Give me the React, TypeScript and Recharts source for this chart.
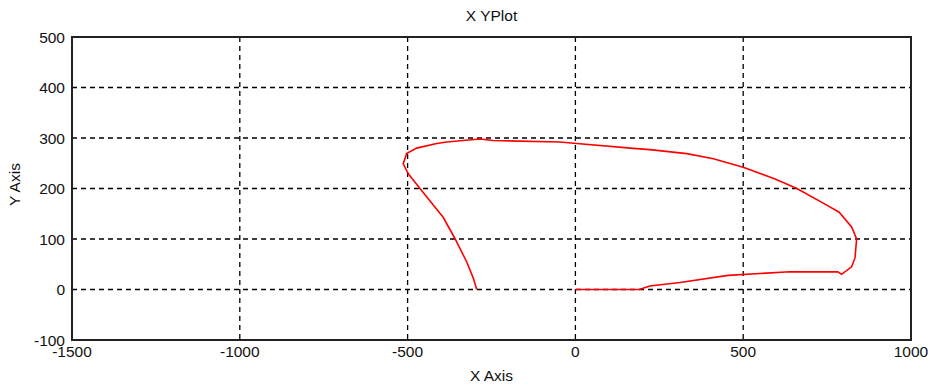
import { LineChart, Line, XAxis, YAxis, CartesianGrid, ReferenceArea } from "recharts";

const xs = [0, 190, 222, 312, 455, 639, 782, 793, 823, 833, 838, 823, 786, 749, 660, 595, 500, 411, 332, 222, 182, 4, -46, -245, -284, -384, -413, -473, -503, -513, -498, -463, -423, -394, -359, -324, -304, -294];
const ys = [0, 0, 7, 14, 28, 35, 35, 30, 45, 62, 100, 124, 153, 167, 200, 219, 242, 259, 269, 277, 279, 289, 292, 295, 298, 292, 289, 280, 269, 249, 229, 200, 167, 143, 101, 55, 22, 0];
const xTicks = [-1500, -1000, -500, 0, 500, 1000];
const yTicks = [-100, 0, 100, 200, 300, 400, 500];

const data = xs.map((x, i) => ({ x, y: ys[i] }));

const font = "'Liberation Sans', Arial, sans-serif";
const tickStyle = { fill: "#111", fontSize: 15.5, fontFamily: font };

export default function App() {
  return (
    <div style={{ position: "absolute", left: 0, top: 0, width: 932, height: 385, background: "#fff" }}>
      <div
        style={{
          position: "absolute",
          left: 72,
          width: 839,
          top: 7,
          lineHeight: "18px",
          textAlign: "center",
          fontFamily: font,
          fontSize: 15.5,
          color: "#111",
        }}
      >
        X YPlot
      </div>
      <LineChart width={932} height={385} data={data} margin={{ top: 37, right: 21, bottom: 0, left: 0 }}>
        <CartesianGrid stroke="#000" strokeWidth={1.3} strokeDasharray="5 4" />
        <XAxis
          dataKey="x"
          type="number"
          domain={[-1500, 1000]}
          ticks={xTicks}
          height={45}
          tickLine={false}
          tickSize={0}
          tickMargin={6}
          tick={tickStyle}
          axisLine={{ stroke: "#222", strokeWidth: 2 }}
          label={{ value: "X Axis", position: "insideBottom", offset: 4, style: { fill: "#111", fontSize: 15.5, fontFamily: font } }}
        />
        <YAxis
          dataKey="y"
          type="number"
          domain={[-100, 500]}
          ticks={yTicks}
          width={72}
          tickLine={false}
          tickSize={0}
          tickMargin={7}
          tick={tickStyle}
          axisLine={{ stroke: "#222", strokeWidth: 2 }}
          label={{
            value: "Y Axis",
            angle: -90,
            position: "insideLeft",
            offset: 14,
            dy: -4,
            style: { fill: "#111", fontSize: 15.5, fontFamily: font, textAnchor: "middle" },
          }}
        />
        <ReferenceArea x1={-1500} x2={1000} y1={-100} y2={500} fill="none" stroke="#222" strokeWidth={2} ifOverflow="visible" />
        <Line dataKey="y" type="linear" stroke="#ff0000" strokeWidth={1.6} dot={false} isAnimationActive={false} />
      </LineChart>
    </div>
  );
}
